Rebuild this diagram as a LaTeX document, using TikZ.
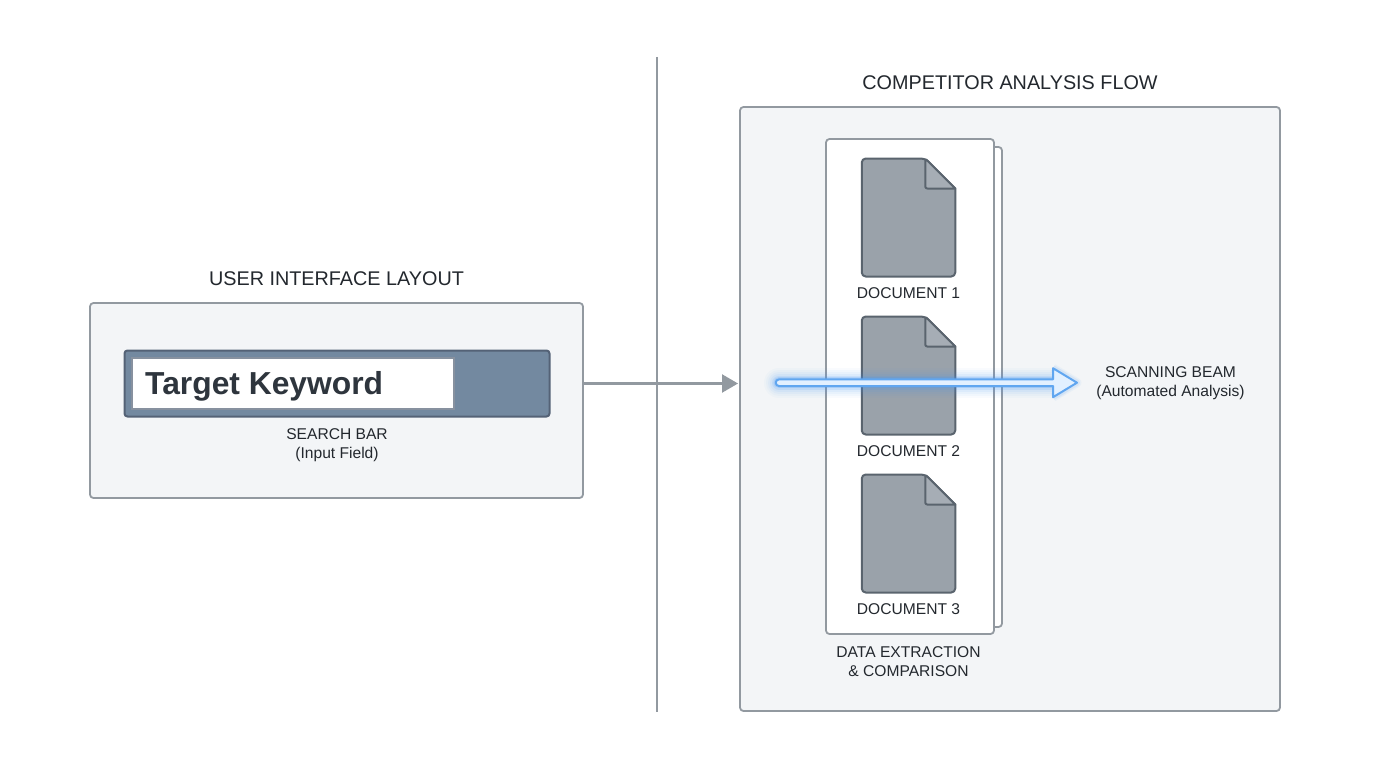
\documentclass[tikz,border=0pt]{standalone}
\usepackage{fontspec}
\setmainfont{Liberation Sans}
\usetikzlibrary{arrows.meta,calc}
\definecolor{edgegray}{RGB}{146,153,160}
\definecolor{panelfill}{RGB}{243,245,247}
\definecolor{barfill}{RGB}{115,137,160}
\definecolor{baredge}{RGB}{84,98,118}
\definecolor{docfill}{RGB}{154,162,170}
\definecolor{foldfill}{RGB}{166,173,181}
\definecolor{docedge}{RGB}{90,100,110}
\definecolor{inktext}{RGB}{35,40,46}
\definecolor{keytext}{RGB}{46,53,61}
\definecolor{beamblue}{RGB}{96,166,240}
\definecolor{beamglow}{RGB}{70,150,245}
\definecolor{beamcore}{RGB}{226,240,255}
\tikzset{
  x=1pt,y=-1pt,
  panel/.style={draw=edgegray,fill=panelfill,line width=1.8pt,rounded corners=3.5pt,inner sep=0,outer sep=0},
  sheet/.style={draw=edgegray,fill=white,line width=1.8pt,rounded corners=3.5pt,inner sep=0,outer sep=0},
  titletext/.style={text=inktext,font=\fontsize{19.8}{24}\selectfont,inner sep=0},
  smalltext/.style={text=inktext,font=\fontsize{15.6}{19.2}\selectfont,align=center,inner sep=0},
  docbody/.style={fill=docfill,draw=docedge,line width=2pt,line join=round},
  docfold/.style={fill=foldfill,draw=docedge,line width=2pt,line join=round},
  docbox/.style={minimum width=93.5pt,minimum height=118pt,inner sep=0,outer sep=0},
  flowline/.style={draw=edgegray,line width=2.2pt},
}
\newcommand{\docicon}[1]{%
  \draw[docbody,rounded corners=4pt] (#1.north west) -- ($(#1.north east)+(-30,0)$) [sharp corners] -- ($(#1.north east)+(0,30)$) [rounded corners=4pt] -- (#1.south east) -- (#1.south west) -- cycle;
  \draw[docfold] ($(#1.north east)+(-30,0)$) -- ($(#1.north east)+(0,30)$) [rounded corners=2pt] -- ($(#1.north east)+(-30,30)$) -- cycle;
}
\begin{document}
\begin{tikzpicture}
\useasboundingbox (0,0) rectangle (1376,768);
\fill[white] (0,0) rectangle (1376,768);
% divider
\coordinate (divtop) at (657,57);
\coordinate (divbot) at (657,712);
\draw[flowline] (divtop) -- (divbot);
% left panel
\node[titletext] (uititle) at (336.5,279) {USER INTERFACE LAYOUT};
\node[panel,minimum width=493pt,minimum height=195pt] (ui) at (336.5,400.5) {};
\node[draw=baredge,fill=barfill,line width=2pt,rounded corners=3pt,minimum width=425pt,minimum height=66pt,inner sep=0,outer sep=0] (bar) at (337,383.5) {};
\node[draw=baredge!70!white,fill=white,line width=1.5pt,minimum width=322pt,minimum height=51pt,inner sep=0,outer sep=0] (field) at (293,383.5) {};
\node[anchor=west,text=keytext,font=\fontsize{31.8}{36}\selectfont\bfseries,inner sep=0] (keyword) at (145,386) {Target Keyword};
\node[smalltext] (searchlabel) at (337,445.5) {SEARCH BAR\\(Input Field)};
% right panel
\node[titletext] (flowtitle) at (1010,83) {COMPETITOR ANALYSIS FLOW};
\node[panel,minimum width=540pt,minimum height=604pt] (flow) at (1010,409) {};
% connector
\draw[flowline,-{Triangle[length=16pt,width=18pt]}] (ui.east |- bar.center) -- ($(flow.west |- bar.center)+(-2,0)$);
% sheets
\node[sheet,minimum width=168pt,minimum height=480pt] (backsheet) at (918,387) {};
\node[sheet,minimum width=168pt,minimum height=495pt] (frontsheet) at (910,386.5) {};
% documents
\node[docbox] (doca) at (908.5,217.5) {};
\node[docbox] (docb) at (908.5,375.5) {};
\node[docbox] (docc) at (908.5,533.5) {};
\docicon{doca}
\docicon{docb}
\docicon{docc}
\node[smalltext] (labela) at (908.5,293) {DOCUMENT 1};
\node[smalltext] (labelb) at (908.5,451) {DOCUMENT 2};
\node[smalltext] (labelc) at (908.5,609) {DOCUMENT 3};
\node[smalltext] (datalabel) at (908.5,662) {DATA EXTRACTION\\\& COMPARISON};
\node[smalltext] (beamlabel) at (1170.5,383) {SCANNING BEAM\\(Automated Analysis)};
% scanning beam
\coordinate (beamstart) at (779,382.7);
\coordinate (beamend) at (1077,382.7);
\foreach \w/\o in {30/0.03,26/0.04,22/0.05,18/0.07,14/0.12,11/0.18}{
  \draw[beamglow,opacity=\o,line width=\w pt,line cap=round,line join=round]
    (beamstart) -- ($(beamend)+(-22,0)$);
}
\foreach \w/\o in {9/0.06,6/0.10}{
  \draw[beamglow,opacity=\o,line width=\w pt,line join=round]
    ($(beamend)+(-24,-14.5)$) -- (beamend) -- ($(beamend)+(-24,14.5)$);
}
\draw[draw=beamblue,fill=beamcore,line width=2pt,line join=round]
  (beamstart) ++(0,-3.3) -- ($(beamend)+(-24,-3.3)$) -- ($(beamend)+(-24,-14.5)$) -- (beamend) -- ($(beamend)+(-24,14.5)$) -- ($(beamend)+(-24,3.3)$) -- ($(beamstart)+(0,3.3)$) arc[start angle=270,end angle=90,radius=3.3pt] -- cycle;
\end{tikzpicture}
\end{document}
